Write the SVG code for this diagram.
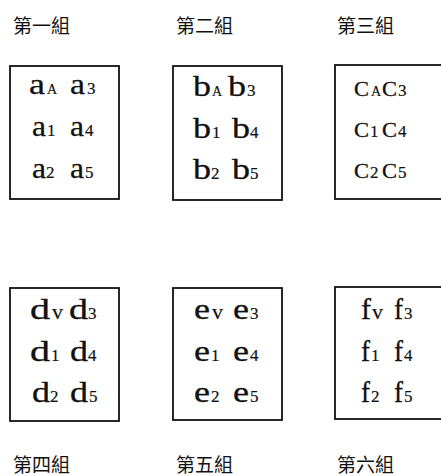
<svg xmlns="http://www.w3.org/2000/svg" width="441" height="476" viewBox="0 0 441 476">
  <style>
    .box { fill: #fff; stroke: #111; stroke-width: 1.8; }
    .lbl { font-family: "Noto Sans CJK TC", "Noto Sans CJK SC", sans-serif; font-size: 19px; fill: #111; }
    .big { font-family: "Liberation Serif", serif; font-size: 30px; fill: #111; stroke: #111; stroke-width: 0.3; }
    .sub { font-family: "Liberation Serif", serif; font-size: 17px; fill: #111; stroke: #111; stroke-width: 0.2; }
    .cap { font-size: 14px; }
    .sc { font-variant: small-caps; }
    .v { font-size: 22px; }
  </style>
  <rect width="441" height="476" fill="#fff"/>

  <!-- group 1 -->
  <g id="group1">
    <text class="lbl" x="13" y="33">第一組</text>
    <rect class="box" x="10" y="66" width="109" height="133"/>
    <text class="big" x="29" y="94" textLength="16" lengthAdjust="spacingAndGlyphs">a</text>
    <text class="sub cap" x="47" y="94">A</text>
    <text class="big" x="70" y="94" textLength="15" lengthAdjust="spacingAndGlyphs">a</text>
    <text class="sub" x="87" y="94">3</text>
    <text class="big" x="32" y="136" textLength="14" lengthAdjust="spacingAndGlyphs">a</text>
    <text class="sub" x="47" y="136">1</text>
    <text class="big" x="70" y="136" textLength="14" lengthAdjust="spacingAndGlyphs">a</text>
    <text class="sub" x="85" y="136">4</text>
    <text class="big" x="32" y="178" textLength="14" lengthAdjust="spacingAndGlyphs">a</text>
    <text class="sub" x="46" y="178">2</text>
    <text class="big" x="70" y="178" textLength="14" lengthAdjust="spacingAndGlyphs">a</text>
    <text class="sub" x="85" y="178">5</text>
  </g>

  <!-- group 2 -->
  <g id="group2">
    <text class="lbl" x="176" y="33">第二組</text>
    <rect class="box" x="173" y="66" width="109" height="134"/>
    <text class="big" x="193" y="96" textLength="18" lengthAdjust="spacingAndGlyphs">b</text>
    <text class="sub cap" x="212" y="96">A</text>
    <text class="big" x="228" y="96" textLength="18" lengthAdjust="spacingAndGlyphs">b</text>
    <text class="sub" x="247" y="96">3</text>
    <text class="big" x="193" y="138" textLength="18" lengthAdjust="spacingAndGlyphs">b</text>
    <text class="sub" x="212" y="138">1</text>
    <text class="big" x="232" y="138" textLength="18" lengthAdjust="spacingAndGlyphs">b</text>
    <text class="sub" x="250" y="138">4</text>
    <text class="big" x="193" y="179" textLength="18" lengthAdjust="spacingAndGlyphs">b</text>
    <text class="sub" x="211" y="179">2</text>
    <text class="big" x="232" y="179" textLength="18" lengthAdjust="spacingAndGlyphs">b</text>
    <text class="sub" x="250" y="179">5</text>
  </g>

  <!-- group 3 -->
  <g id="group3">
    <text class="lbl" x="337" y="33">第三組</text>
    <rect class="box" x="335" y="65" width="112" height="134"/>
    <text class="big sc" x="354" y="96" textLength="15" lengthAdjust="spacingAndGlyphs">c</text>
    <text class="sub cap" x="371" y="96">A</text>
    <text class="big sc" x="382" y="96" textLength="15" lengthAdjust="spacingAndGlyphs">c</text>
    <text class="sub" x="398" y="96">3</text>
    <text class="big sc" x="354" y="137" textLength="15" lengthAdjust="spacingAndGlyphs">c</text>
    <text class="sub" x="370" y="137">1</text>
    <text class="big sc" x="382" y="137" textLength="15" lengthAdjust="spacingAndGlyphs">c</text>
    <text class="sub" x="398" y="137">4</text>
    <text class="big sc" x="354" y="178" textLength="15" lengthAdjust="spacingAndGlyphs">c</text>
    <text class="sub" x="370" y="178">2</text>
    <text class="big sc" x="382" y="178" textLength="15" lengthAdjust="spacingAndGlyphs">c</text>
    <text class="sub" x="398" y="178">5</text>
  </g>

  <!-- group 4 -->
  <g id="group4">
    <rect class="box" x="10" y="288" width="109" height="133"/>
    <text class="big" x="30" y="319" textLength="20" lengthAdjust="spacingAndGlyphs">d</text>
    <text class="sub v" x="52" y="319">v</text>
    <text class="big" x="69" y="319" textLength="19" lengthAdjust="spacingAndGlyphs">d</text>
    <text class="sub" x="88" y="319">3</text>
    <text class="big" x="30" y="361" textLength="20" lengthAdjust="spacingAndGlyphs">d</text>
    <text class="sub" x="51" y="361">1</text>
    <text class="big" x="70" y="361" textLength="18" lengthAdjust="spacingAndGlyphs">d</text>
    <text class="sub" x="88" y="361">4</text>
    <text class="big" x="32" y="402" textLength="18" lengthAdjust="spacingAndGlyphs">d</text>
    <text class="sub" x="50" y="402">2</text>
    <text class="big" x="70" y="402" textLength="18" lengthAdjust="spacingAndGlyphs">d</text>
    <text class="sub" x="89" y="402">5</text>
    <text class="lbl" x="13" y="472">第四組</text>
  </g>

  <!-- group 5 -->
  <g id="group5">
    <rect class="box" x="173" y="288" width="109" height="132"/>
    <text class="big" x="194" y="319" textLength="16" lengthAdjust="spacingAndGlyphs">e</text>
    <text class="sub v" x="212" y="319">v</text>
    <text class="big" x="233" y="319" textLength="16" lengthAdjust="spacingAndGlyphs">e</text>
    <text class="sub" x="250" y="319">3</text>
    <text class="big" x="194" y="361" textLength="16" lengthAdjust="spacingAndGlyphs">e</text>
    <text class="sub" x="211" y="361">1</text>
    <text class="big" x="233" y="361" textLength="16" lengthAdjust="spacingAndGlyphs">e</text>
    <text class="sub" x="250" y="361">4</text>
    <text class="big" x="194" y="402" textLength="16" lengthAdjust="spacingAndGlyphs">e</text>
    <text class="sub" x="211" y="402">2</text>
    <text class="big" x="233" y="402" textLength="16" lengthAdjust="spacingAndGlyphs">e</text>
    <text class="sub" x="250" y="402">5</text>
    <text class="lbl" x="176" y="472">第五組</text>
  </g>

  <!-- group 6 -->
  <g id="group6">
    <rect class="box" x="335" y="287" width="112" height="132"/>
    <text class="big" x="361" y="319" textLength="10" lengthAdjust="spacingAndGlyphs">f</text>
    <text class="sub v" x="372" y="319">v</text>
    <text class="big" x="394" y="319" textLength="9" lengthAdjust="spacingAndGlyphs">f</text>
    <text class="sub" x="404" y="319">3</text>
    <text class="big" x="361" y="361" textLength="9" lengthAdjust="spacingAndGlyphs">f</text>
    <text class="sub" x="371" y="361">1</text>
    <text class="big" x="394" y="361" textLength="9" lengthAdjust="spacingAndGlyphs">f</text>
    <text class="sub" x="404" y="361">4</text>
    <text class="big" x="361" y="402" textLength="9" lengthAdjust="spacingAndGlyphs">f</text>
    <text class="sub" x="371" y="402">2</text>
    <text class="big" x="394" y="402" textLength="9" lengthAdjust="spacingAndGlyphs">f</text>
    <text class="sub" x="404" y="402">5</text>
    <text class="lbl" x="337" y="472">第六組</text>
  </g>
</svg>
